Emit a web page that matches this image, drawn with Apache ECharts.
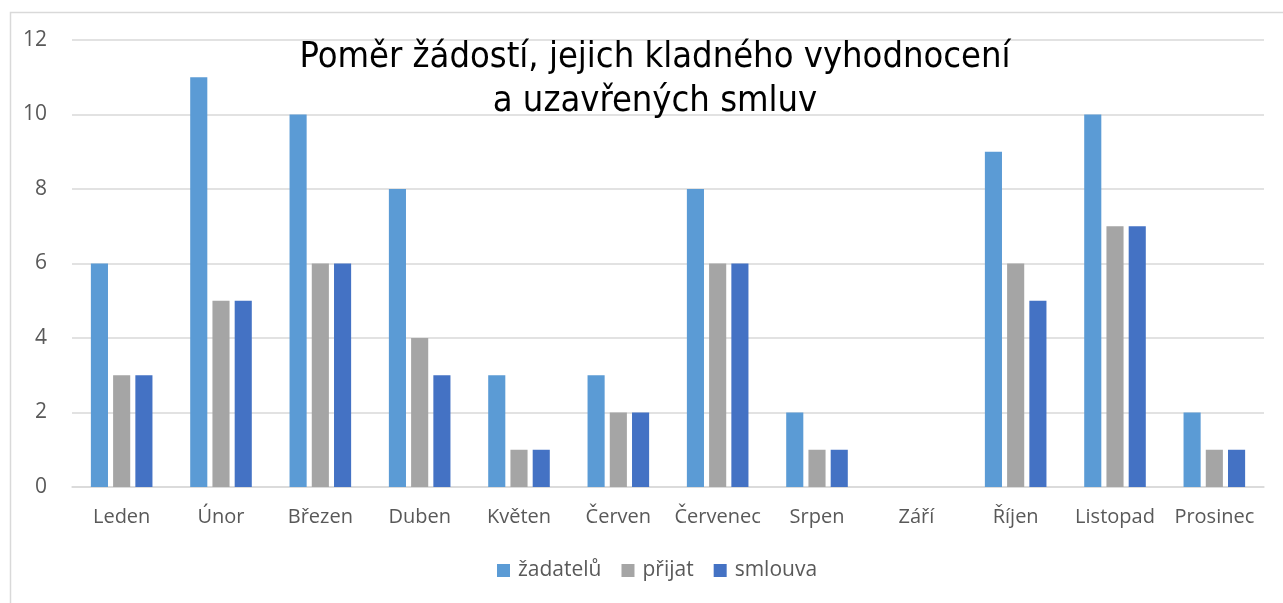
<html>
	<head>
		<meta charset="UTF-8"/>
		<title>Poměr žádostí</title>
		<script type="text/javascript" src="https://cdn.jsdelivr.net/npm/echarts@6/dist/echarts.min.js"></script>
		<style type="text/css">
			body {
				margin: 0;
				background: #fff;
			}
			#canvasDiv {
				width: 1283px;
				height: 603px;
			}
		</style>
	</head>
	<body>
		<div id="canvasDiv"></div>
		<script type="text/javascript">
			// měsíce a hodnoty
			var months = ["Leden", "Únor", "Březen", "Duben", "Květen", "Červen", "Červenec", "Srpen", "Září", "Říjen", "Listopad", "Prosinec"];
			var zadatelu = [6, 11, 10, 8, 3, 3, 8, 2, 0, 9, 10, 2];
			var prijat = [3, 5, 6, 4, 1, 2, 6, 1, 0, 6, 7, 1];
			var smlouva = [3, 5, 6, 3, 1, 2, 6, 1, 0, 5, 7, 1];
			var seriesNames = ["žadatelů", "přijat", "smlouva"];

			var font = "'Open Sans', 'Noto Sans', sans-serif";
			var chart = echarts.init(document.getElementById("canvasDiv"));
			var option = {
				animation: false,
				color: ["#5B9BD5", "#A5A5A5", "#4472C4"],
				graphic: [{
					type: "rect",
					left: 8,
					top: 10,
					shape: {width: 1400, height: 700},
					style: {fill: "none", stroke: "#d9d9d9", lineWidth: 1.5},
					silent: true
				}],
				title: {
					text: "Poměr žádostí, jejich kladného vyhodnocení\na uzavřených smluv",
					left: 650,
					textAlign: "center",
					top: 31,
					textStyle: {
						fontFamily: "'Liberation Sans Narrow', 'DejaVu Sans Condensed', sans-serif",
						fontWeight: "normal",
						fontSize: 36,
						lineHeight: 44,
						color: "#000"
					}
				},
				grid: {
					left: 72,
					right: 19,
					top: 40,
					bottom: 116,
					containLabel: false
				},
				legend: {
					data: seriesNames,
					bottom: 17,
					left: 492,
					itemWidth: 13,
					itemHeight: 13,
					itemGap: 20,
					icon: "rect",
					textStyle: {fontFamily: font, fontSize: 21, color: "#595959", padding: [0, 0, 0, 3]}
				},
				xAxis: {
					type: "category",
					data: months,
					axisTick: {show: false},
					axisLine: {lineStyle: {color: "#d9d9d9", width: 1.5}},
					axisLabel: {fontFamily: font, fontSize: 20, color: "#595959", margin: 20, interval: 0}
				},
				yAxis: {
					type: "value",
					min: 0,
					max: 12,
					interval: 2,
					splitLine: {lineStyle: {color: "#d9d9d9", width: 1.5}},
					axisLabel: {fontFamily: font, fontSize: 21, color: "#595959", margin: 25}
				},
				series: [{
					type: "bar",
					name: seriesNames[0],
					data: zadatelu,
					barGap: "30%",
					barCategoryGap: "38%"
				}, {
					type: "bar",
					name: seriesNames[1],
					data: prijat
				}, {
					type: "bar",
					name: seriesNames[2],
					data: smlouva
				}]
			};
			chart.setOption(option);
		</script>
	</body>
</html>
